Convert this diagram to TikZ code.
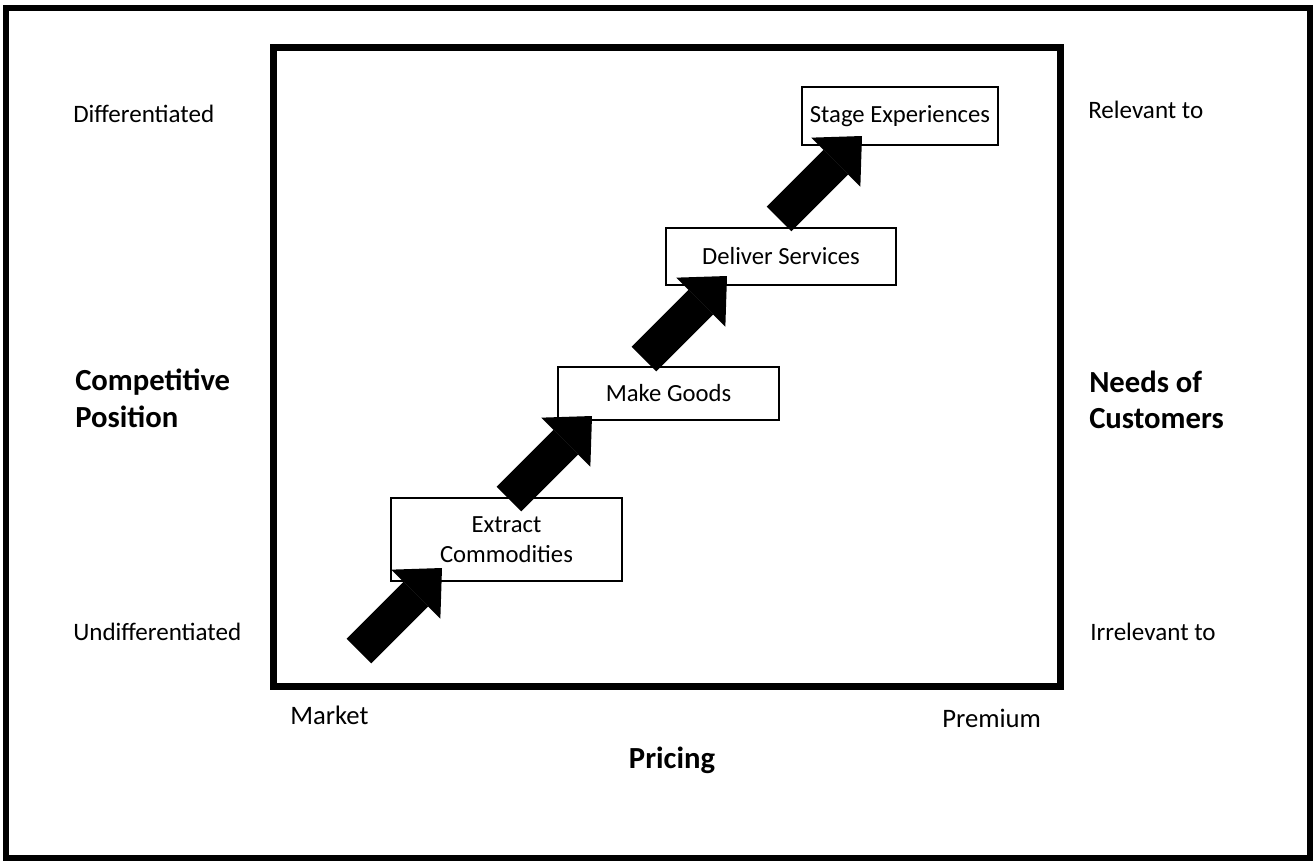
\documentclass[tikz,border=0pt]{standalone}
\usepackage{fontspec}
\setmainfont{Carlito}
\usetikzlibrary{arrows.meta, positioning}

\begin{document}
\begin{tikzpicture}[
    x=0.75pt, y=-0.75pt,
    stage/.style={rectangle, draw=black, line width=1.5pt, fill=white, inner sep=0pt, align=center, font=\fontsize{18.5}{22.5}\selectfont},
    stairarrow/.style={line width=26pt, -{Triangle[length=27.75pt, width=52pt, line width=0pt]}},
    label/.style={anchor=west, inner sep=0pt, font=\fontsize{18.8}{22.5}\selectfont},
    axisend/.style={label, font=\fontsize{20}{24}\selectfont},
    heading/.style={inner sep=0pt, align=left, font=\fontsize{23}{27.5}\selectfont\bfseries}
]
\useasboundingbox (0,0) rectangle (1315,861);

% Frames
\draw[line width=4.5pt] (6,7.5) rectangle (1309.5,858);
\draw[line width=5pt] (273.5,47.5) rectangle (1060.5,686.5);

% Stages
\node[stage, minimum width=231*0.75pt, minimum height=83*0.75pt] (extract) at (506.5,539.5) {Extract\\Commodities};
\node[stage, minimum width=221*0.75pt, minimum height=53*0.75pt] (goods) at (668.5,393.5) {Make Goods};
\node[stage, minimum width=230*0.75pt, minimum height=57*0.75pt] (deliver) at (781,256.5) {Deliver Services};
\node[stage, minimum width=196*0.75pt, minimum height=58*0.75pt] (experience) at (900,116) {Stage Experiences};

% Arrow tips
\coordinate (h1) at ([shift={(52,-14)}]extract.south west);
\coordinate (h2) at ([shift={(35,-5)}]goods.south west);
\coordinate (h3) at ([shift={(62,-10)}]deliver.south west);
\coordinate (h4) at ([shift={(61,-10)}]experience.south west);
\coordinate (t1) at ([shift={(-83,83)}]h1);
\coordinate (t2) at ([shift={(-83,83)}]h2);
\coordinate (t3) at ([shift={(-83,83)}]h3);
\coordinate (t4) at ([shift={(-83,83)}]h4);

% Steps
\draw[stairarrow] (t1) -- (h1);
\draw[stairarrow] (t2) -- (h2);
\draw[stairarrow] (t3) -- (h3);
\draw[stairarrow] (t4) -- (h4);

% Axis labels
\node[label] (diff) at (73,114) {Differentiated};
\node[label] (undiff) at (73,632) {Undifferentiated};
\node[heading, anchor=west] (position) at (75,398) {Competitive\\Position};
\node[label] (relevant) at (1088,110) {Relevant to};
\node[label] (irrelevant) at (1090,632) {Irrelevant to};
\node[heading, anchor=west] (needs) at (1089,400) {Needs of\\Customers};
\node[axisend] (market) at (290,715) {Market};
\node[axisend] (premium) at (942,718) {Premium};
\node[heading] (pricing) at (672,760) {Pricing};

\end{tikzpicture}
\end{document}
